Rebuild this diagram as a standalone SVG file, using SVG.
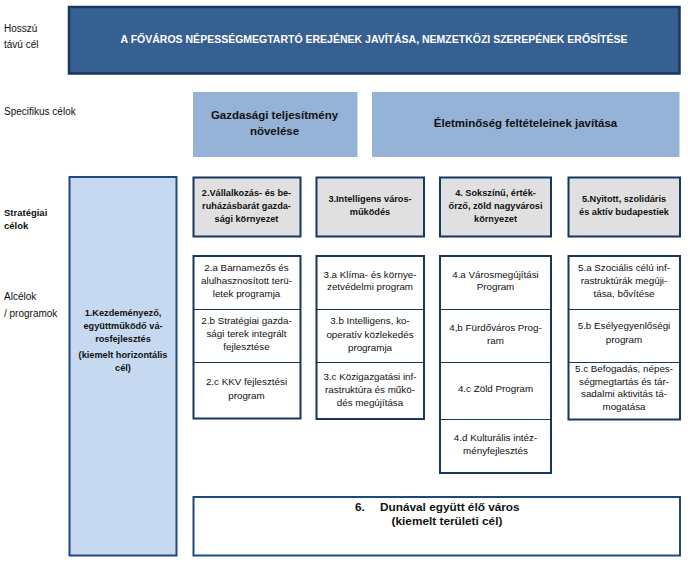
<svg xmlns="http://www.w3.org/2000/svg" width="688" height="562" viewBox="0 0 688 562">
<style>
  text { font-family: "Liberation Sans", Arial, sans-serif; fill: #111; }
  .lbl { font-size: 10px; }
  .lblb { font-size: 9.5px; font-weight: bold; }
  .c { text-anchor: middle; }
  .banner { fill: #376092; stroke: #17375E; stroke-width: 2.5; }
  .bannertxt { font-size: 10.5px; font-weight: bold; fill: #ffffff; }
  .spec { fill: #95B3D7; }
  .spectxt { font-size: 11.5px; font-weight: bold; fill: #111; }
  .strat { fill: #E0E0E0; stroke: #17375E; stroke-width: 2; }
  .strattxt { font-size: 9.2px; font-weight: bold; }
  .horiz { fill: #C6D9F1; stroke: #1F497D; stroke-width: 2; }
  .prog { fill: #ffffff; stroke: #17375E; stroke-width: 2; }
  .div { stroke: #17375E; stroke-width: 1; }
  .progtxt { font-size: 9.8px; }
  .area { fill: #ffffff; stroke: #1F497D; stroke-width: 2; }
  .areatxt { font-size: 11.8px; font-weight: bold; }
</style>

<g id="labels">
  <text class="lbl" x="4" y="32">Hosszú</text>
  <text class="lbl" x="4" y="48">távú cél</text>
  <text class="lbl" x="4" y="115">Specifikus célok</text>
  <text class="lblb" x="4" y="216">Stratégiai</text>
  <text class="lblb" x="4" y="228.5">célok</text>
  <text class="lbl" x="4" y="300">Alcélok</text>
  <text class="lbl" x="4" y="316.5">/ programok</text>
</g>

<g id="node-longterm">
  <rect class="banner" x="69" y="7" width="610.5" height="66.5"/>
  <text class="bannertxt c" x="374" y="42.5">A FŐVÁROS NÉPESSÉGMEGTARTÓ EREJÉNEK JAVÍTÁSA, NEMZETKÖZI SZEREPÉNEK ERŐSÍTÉSE</text>
</g>

<g id="node-spec-gazdasagi">
  <rect class="spec" x="193" y="92" width="164.5" height="65"/>
  <text class="spectxt c" x="274.5" y="119">Gazdasági teljesítmény</text>
  <text class="spectxt c" x="274.5" y="135">növelése</text>
</g>

<g id="node-spec-eletminoseg">
  <rect class="spec" x="372" y="92" width="307.5" height="65"/>
  <text class="spectxt c" x="525.5" y="127">Életminőség feltételeinek javítása</text>
</g>

<g id="node-1">
  <rect class="horiz" x="69.5" y="177" width="107" height="378.5"/>
  <text class="strattxt c" x="123" y="316">1.Kezdeményező,</text>
  <text class="strattxt c" x="123" y="329">együttműködő vá-</text>
  <text class="strattxt c" x="123" y="341.5">rosfejlesztés</text>
  <text class="strattxt c" x="123" y="357.5">(kiemelt horizontális</text>
  <text class="strattxt c" x="123" y="370.5">cél)</text>
</g>

<g id="node-2">
  <rect class="strat" x="193.5" y="177.5" width="107" height="59"/>
  <text class="strattxt c" x="246.5" y="195.5">2.Vállalkozás- és be-</text>
  <text class="strattxt c" x="246.5" y="209">ruházásbarát gazda-</text>
  <text class="strattxt c" x="246.5" y="222">sági környezet</text>
</g>

<g id="node-3">
  <rect class="strat" x="316.5" y="177.5" width="107.5" height="59"/>
  <text class="strattxt c" x="370" y="201.5">3.Intelligens város-</text>
  <text class="strattxt c" x="370" y="214.5">működés</text>
</g>

<g id="node-4">
  <rect class="strat" x="440" y="177.5" width="111" height="59"/>
  <text class="strattxt c" x="495.5" y="195.5">4. Sokszínű, érték-</text>
  <text class="strattxt c" x="495.5" y="209">őrző, zöld nagyvárosi</text>
  <text class="strattxt c" x="495.5" y="222">környezet</text>
</g>

<g id="node-5">
  <rect class="strat" x="568.5" y="177.5" width="111.5" height="59"/>
  <text class="strattxt c" x="624" y="201.5">5.Nyitott, szolidáris</text>
  <text class="strattxt c" x="624" y="214.5">és aktív budapestiek</text>
</g>

<g id="node-2-programs">
  <rect class="prog" x="193.5" y="256" width="107" height="162.5"/>
  <line class="div" x1="193.5" y1="309.5" x2="300.5" y2="309.5"/>
  <line class="div" x1="193.5" y1="362.5" x2="300.5" y2="362.5"/>
  <text class="progtxt c" x="246.5" y="271">2.a Barnamezős és</text>
  <text class="progtxt c" x="246.5" y="283.5">alulhasznosított terü-</text>
  <text class="progtxt c" x="246.5" y="297">letek programja</text>
  <text class="progtxt c" x="246.5" y="323.5">2.b Stratégiai gazda-</text>
  <text class="progtxt c" x="246.5" y="337">sági terek integrált</text>
  <text class="progtxt c" x="246.5" y="350">fejlesztése</text>
  <text class="progtxt c" x="246.5" y="385">2.c KKV fejlesztési</text>
  <text class="progtxt c" x="246.5" y="398.5">program</text>
</g>

<g id="node-3-programs">
  <rect class="prog" x="316.5" y="256" width="107.5" height="163"/>
  <line class="div" x1="316.5" y1="309.5" x2="424" y2="309.5"/>
  <line class="div" x1="316.5" y1="362.5" x2="424" y2="362.5"/>
  <text class="progtxt c" x="370" y="277.5">3.a Klíma- és környe-</text>
  <text class="progtxt c" x="370" y="290">zetvédelmi program</text>
  <text class="progtxt c" x="370" y="324">3.b Intelligens, ko-</text>
  <text class="progtxt c" x="370" y="337.5">operatív közlekedés</text>
  <text class="progtxt c" x="370" y="350.5">programja</text>
  <text class="progtxt c" x="370" y="380">3.c Közigazgatási inf-</text>
  <text class="progtxt c" x="370" y="393">rastruktúra és műkö-</text>
  <text class="progtxt c" x="370" y="405.5">dés megújítása</text>
</g>

<g id="node-4-programs">
  <rect class="prog" x="440" y="256" width="111" height="217"/>
  <line class="div" x1="440" y1="309.5" x2="551" y2="309.5"/>
  <line class="div" x1="440" y1="362.5" x2="551" y2="362.5"/>
  <line class="div" x1="440" y1="419.5" x2="551" y2="419.5"/>
  <text class="progtxt c" x="495.5" y="277.5">4.a Városmegújítási</text>
  <text class="progtxt c" x="495.5" y="290">Program</text>
  <text class="progtxt c" x="495.5" y="331">4,b Fürdőváros Prog-</text>
  <text class="progtxt c" x="495.5" y="343.5">ram</text>
  <text class="progtxt c" x="495.5" y="392">4.c Zöld Program</text>
  <text class="progtxt c" x="495.5" y="441">4.d Kulturális intéz-</text>
  <text class="progtxt c" x="495.5" y="454">ményfejlesztés</text>
</g>

<g id="node-5-programs">
  <rect class="prog" x="568.5" y="256" width="111.5" height="163.5"/>
  <line class="div" x1="568.5" y1="309.5" x2="680" y2="309.5"/>
  <line class="div" x1="568.5" y1="362.5" x2="680" y2="362.5"/>
  <text class="progtxt c" x="624" y="271">5.a Szociális célú inf-</text>
  <text class="progtxt c" x="624" y="283.5">rastruktúrák megúji-</text>
  <text class="progtxt c" x="624" y="297">tása, bővítése</text>
  <text class="progtxt c" x="624" y="329">5.b Esélyegyenlőségi</text>
  <text class="progtxt c" x="624" y="342.5">program</text>
  <text class="progtxt c" x="624" y="372">5.c Befogadás, népes-</text>
  <text class="progtxt c" x="624" y="384.5">ségmegtartás és tár-</text>
  <text class="progtxt c" x="624" y="397">sadalmi aktivitás tá-</text>
  <text class="progtxt c" x="624" y="410">mogatása</text>
</g>

<g id="node-6">
  <rect class="area" x="193.5" y="497" width="486.5" height="58.5"/>
  <text class="areatxt" x="355" y="511">6.</text>
  <text class="areatxt" x="380" y="511">Dunával együtt élő város</text>
  <text class="areatxt c" x="447" y="525">(kiemelt területi cél)</text>
</g>

<g id="connectors"></g>
</svg>
